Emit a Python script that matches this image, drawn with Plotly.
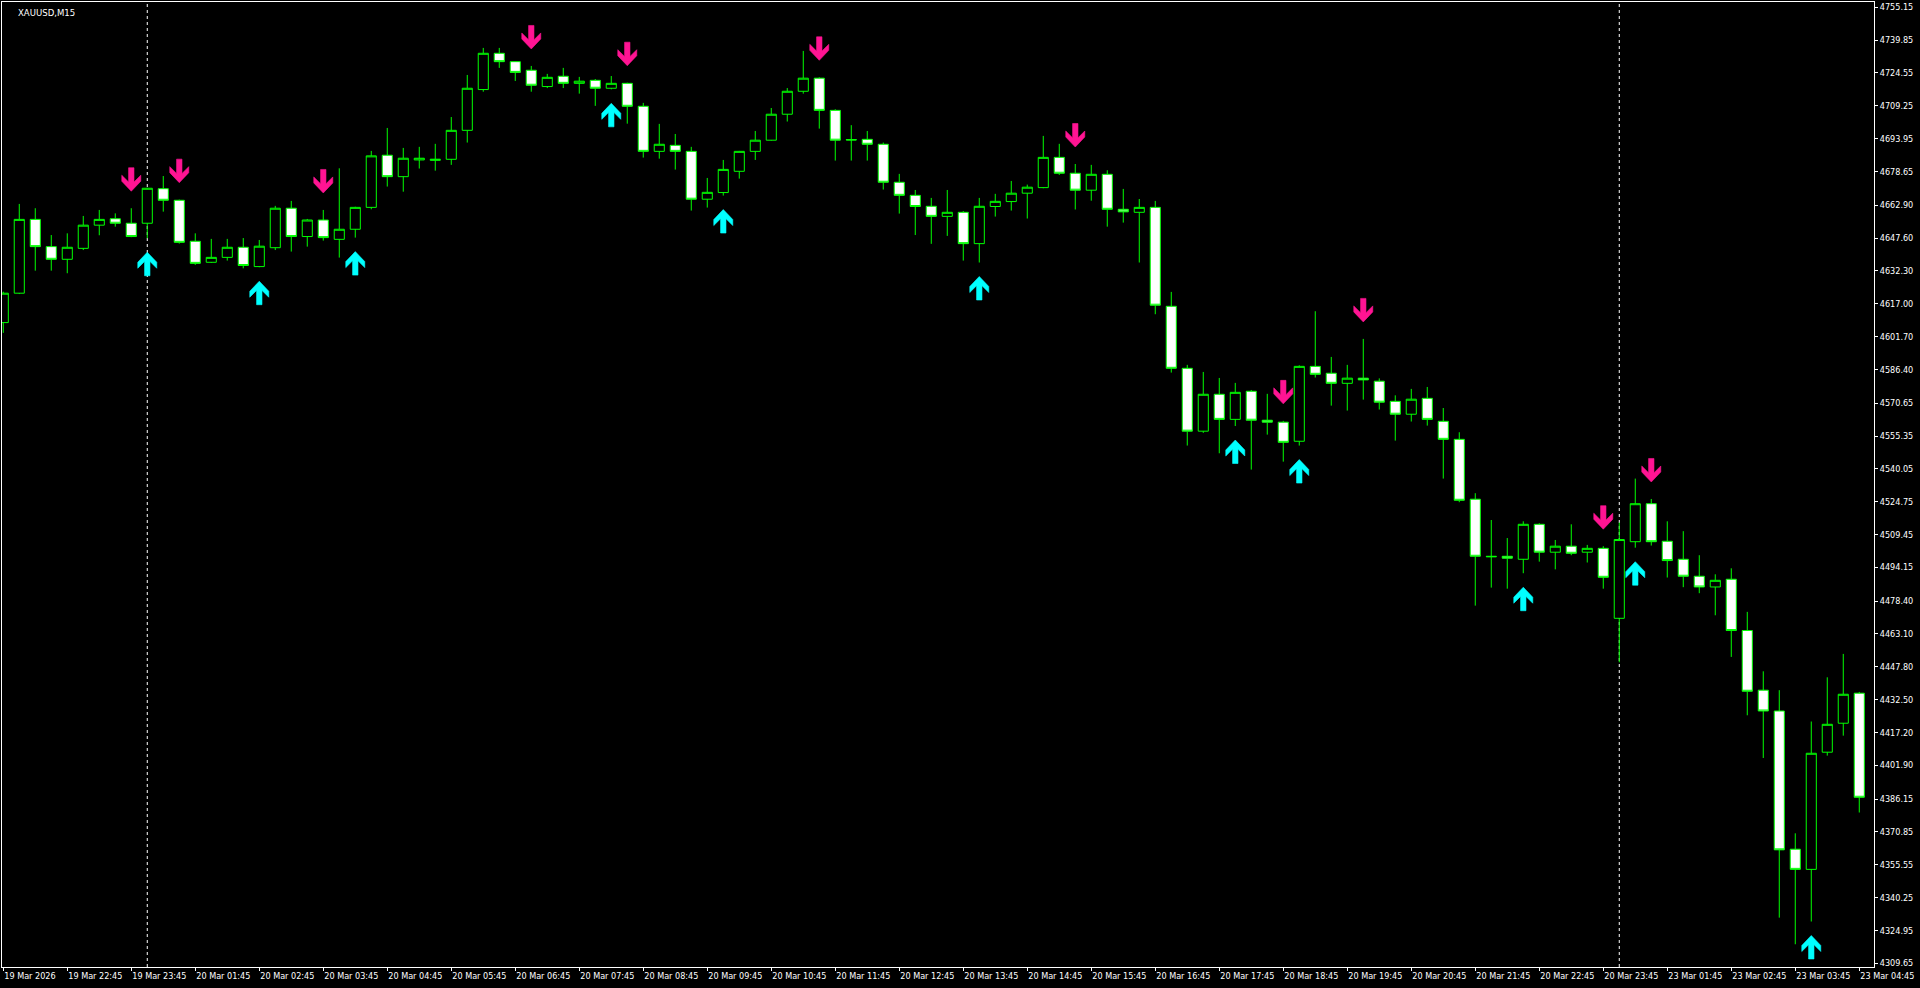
import plotly.graph_objects as go

chart_title = "XAUUSD,M15"

opens = [4608.2, 4621.9, 4656.3, 4643.6, 4637.7, 4642.8, 4653.6, 4656.6, 4654.5, 4654.5,
         4670.6, 4665.2, 4646.1, 4636.3, 4638.6, 4643.3, 4634.3, 4643.1, 4661.5, 4648.3,
         4656.0, 4647.0, 4651.7, 4661.9, 4686.2, 4676.2, 4684.0, 4683.8, 4684.3, 4697.8,
         4716.8, 4733.7, 4729.8, 4725.8, 4718.2, 4723.0, 4719.7, 4721.1, 4717.4, 4719.7,
         4709.0, 4688.0, 4690.8, 4688.0, 4665.7, 4668.8, 4678.7, 4688.0, 4693.2, 4705.3,
         4716.0, 4722.1, 4707.1, 4693.5, 4693.6, 4691.3, 4673.6, 4667.5, 4662.4, 4657.7,
         4659.6, 4645.0, 4662.3, 4664.6, 4668.5, 4671.1, 4685.2, 4677.8, 4669.9, 4677.3,
         4661.0, 4659.6, 4661.9, 4615.8, 4586.9, 4557.6, 4574.8, 4563.1, 4576.2, 4562.7,
         4561.8, 4552.9, 4587.8, 4584.6, 4579.9, 4582.3, 4580.9, 4571.5, 4565.5, 4572.9,
         4562.2, 4553.8, 4525.9, 4499.3, 4499.3, 4497.9, 4514.2, 4501.2, 4504.0, 4501.2,
         4503.0, 4470.4, 4506.1, 4523.8, 4506.3, 4497.9, 4490.0, 4485.0, 4488.6, 4464.7,
         4436.9, 4427.2, 4362.8, 4353.4, 4408.0, 4421.5, 4435.5]
highs = [4622.6, 4663.5, 4661.5, 4649.0, 4649.8, 4657.9, 4660.7, 4659.1, 4661.5, 4671.0,
         4676.5, 4665.5, 4649.8, 4647.2, 4647.2, 4647.6, 4646.7, 4662.6, 4664.9, 4656.5,
         4660.7, 4680.1, 4662.2, 4688.2, 4698.9, 4689.6, 4690.1, 4691.5, 4704.0, 4723.6,
         4736.2, 4736.2, 4730.0, 4727.8, 4724.1, 4726.9, 4722.7, 4721.7, 4723.1, 4720.0,
         4710.6, 4700.8, 4696.1, 4690.1, 4675.6, 4684.0, 4688.2, 4697.5, 4708.2, 4717.5,
         4734.8, 4722.5, 4707.6, 4700.2, 4697.5, 4692.1, 4677.5, 4670.0, 4666.3, 4670.0,
         4660.2, 4666.3, 4668.2, 4674.2, 4672.5, 4695.2, 4691.5, 4682.1, 4681.7, 4679.2,
         4670.5, 4665.8, 4664.9, 4622.5, 4588.5, 4585.2, 4582.4, 4580.1, 4576.8, 4575.0,
         4562.4, 4588.3, 4613.5, 4592.2, 4588.5, 4600.6, 4582.2, 4574.3, 4577.3, 4578.2,
         4568.4, 4557.1, 4528.7, 4516.2, 4507.8, 4515.6, 4514.7, 4506.9, 4514.2, 4504.6,
         4504.0, 4515.0, 4535.5, 4526.0, 4515.6, 4511.0, 4499.8, 4490.9, 4493.7, 4473.4,
         4445.7, 4436.9, 4370.2, 4422.3, 4442.9, 4453.8, 4436.1]
lows = [4603.4, 4621.5, 4632.4, 4632.4, 4631.2, 4642.0, 4648.9, 4652.9, 4648.0, 4647.5,
        4659.9, 4645.0, 4635.1, 4636.0, 4637.1, 4633.5, 4634.0, 4642.0, 4641.3, 4643.6,
        4646.4, 4638.5, 4647.8, 4661.0, 4671.6, 4669.2, 4680.0, 4679.0, 4681.7, 4692.1,
        4715.8, 4726.9, 4720.8, 4715.8, 4717.5, 4717.5, 4714.9, 4709.2, 4716.9, 4700.9,
        4685.1, 4684.6, 4679.5, 4660.4, 4661.8, 4667.4, 4675.3, 4684.0, 4693.0, 4701.9,
        4714.9, 4698.6, 4683.7, 4683.7, 4683.7, 4670.2, 4659.0, 4649.0, 4644.9, 4648.6,
        4637.1, 4636.2, 4657.6, 4660.4, 4656.7, 4670.8, 4677.0, 4660.9, 4665.0, 4652.9,
        4654.8, 4636.2, 4612.1, 4584.9, 4550.9, 4556.8, 4547.3, 4560.0, 4539.7, 4556.0,
        4543.4, 4550.9, 4582.6, 4569.5, 4567.2, 4572.3, 4567.7, 4553.2, 4562.1, 4560.2,
        4535.5, 4524.5, 4476.3, 4484.7, 4484.2, 4491.4, 4496.8, 4493.2, 4499.8, 4496.4,
        4484.2, 4449.9, 4503.3, 4504.3, 4489.4, 4484.9, 4482.1, 4471.8, 4452.4, 4425.2,
        4405.3, 4330.9, 4318.5, 4329.1, 4406.4, 4415.7, 4379.9]
closes = [4621.9, 4656.3, 4643.6, 4637.7, 4643.3, 4653.6, 4656.3, 4654.5, 4648.3, 4670.8,
          4665.2, 4645.6, 4635.8, 4638.6, 4643.3, 4634.8, 4643.8, 4661.5, 4648.3, 4656.0,
          4647.8, 4651.7, 4661.9, 4685.9, 4676.2, 4684.8, 4684.8, 4684.3, 4697.8, 4717.4,
          4733.7, 4729.8, 4724.8, 4718.8, 4722.5, 4719.7, 4720.7, 4717.4, 4719.7, 4709.0,
          4688.0, 4691.3, 4688.0, 4665.7, 4668.9, 4679.6, 4688.0, 4693.2, 4705.3, 4716.0,
          4722.1, 4707.1, 4693.2, 4693.3, 4691.3, 4673.6, 4667.5, 4662.3, 4657.7, 4659.6,
          4645.0, 4662.4, 4664.7, 4668.5, 4671.3, 4685.2, 4677.8, 4669.9, 4677.3, 4661.0,
          4659.8, 4661.9, 4616.3, 4586.9, 4557.6, 4574.8, 4563.1, 4575.7, 4562.7, 4561.8,
          4552.4, 4587.8, 4584.1, 4579.9, 4582.3, 4581.5, 4571.1, 4565.5, 4572.5, 4563.1,
          4553.8, 4525.4, 4499.3, 4499.1, 4498.4, 4514.2, 4501.2, 4504.0, 4500.7, 4503.0,
          4489.5, 4507.1, 4523.8, 4506.1, 4497.3, 4490.0, 4485.0, 4488.1, 4464.7, 4436.4,
          4427.2, 4362.5, 4353.4, 4407.5, 4421.0, 4435.0, 4387.0]

# bar indices carrying the indicator's signals
sell_signals = [8, 11, 20, 33, 39, 51, 67, 80, 85, 100, 103]
buy_signals = [9, 16, 22, 38, 45, 61, 77, 81, 95, 102, 113]
# first bar of a new trading day
day_breaks = [9, 101]

x_tick_labels = ["19 Mar 2026", "19 Mar 22:45", "19 Mar 23:45",
                 "20 Mar 01:45", "20 Mar 02:45", "20 Mar 03:45", "20 Mar 04:45",
                 "20 Mar 05:45", "20 Mar 06:45", "20 Mar 07:45", "20 Mar 08:45",
                 "20 Mar 09:45", "20 Mar 10:45", "20 Mar 11:45", "20 Mar 12:45",
                 "20 Mar 13:45", "20 Mar 14:45", "20 Mar 15:45", "20 Mar 16:45",
                 "20 Mar 17:45", "20 Mar 18:45", "20 Mar 19:45", "20 Mar 20:45",
                 "20 Mar 21:45", "20 Mar 22:45", "20 Mar 23:45",
                 "23 Mar 01:45", "23 Mar 02:45", "23 Mar 03:45", "23 Mar 04:45"]
x_label_every = 4

y_tick_values = [4755.15, 4739.85, 4724.55, 4709.25, 4693.95, 4678.65, 4662.90, 4647.60,
                 4632.30, 4617.00, 4601.70, 4586.40, 4570.65, 4555.35, 4540.05, 4524.75,
                 4509.45, 4494.15, 4478.40, 4463.10, 4447.80, 4432.50, 4417.20, 4401.90,
                 4386.15, 4370.85, 4355.55, 4340.25, 4324.95, 4309.65]

FONT = "DejaVu Sans Condensed, Liberation Sans, sans-serif"
FG = "#FFFFFF"
CANDLE_LINE = "#00FF00"
SELL_COLOR = "#FF1493"
BUY_COLOR = "#00FFFF"

n = len(opens)
xs = list(range(n))

fig = go.Figure()
fig.add_trace(go.Candlestick(
    x=xs, open=opens, high=highs, low=lows, close=closes,
    increasing=dict(line=dict(color=CANDLE_LINE, width=1), fillcolor="#000000"),
    decreasing=dict(line=dict(color=CANDLE_LINE, width=1), fillcolor="#FFFFFF"),
    whiskerwidth=0, hoverinfo="skip", showlegend=False,
))

# arrow glyph outline in pixels (tip at origin, pointing down)
glyph = [(0, 0), (9.5, 10), (9.5, 16), (2.7, 9.2), (2.7, 23.5), (-2.7, 23.5),
         (-2.7, 9.2), (-9.5, 16), (-9.5, 10)]


def glyph_path(sign, gap):
    pts = [(px, sign * (py + gap)) for px, py in glyph]
    return "M " + " L ".join(f"{px},{py}" for px, py in pts) + " Z"


shapes = []
for d in day_breaks:
    shapes.append(dict(type="line", xref="x", yref="paper", x0=d, x1=d, y0=0, y1=1,
                       line=dict(color=FG, width=1, dash="3px,3px"), layer="below"))
for i in sell_signals:
    shapes.append(dict(type="path", xref="x", yref="y", xsizemode="pixel", ysizemode="pixel",
                       xanchor=i, yanchor=highs[i], path=glyph_path(1, 17),
                       fillcolor=SELL_COLOR, line=dict(color=SELL_COLOR, width=0.6),
                       layer="above"))
for i in buy_signals:
    shapes.append(dict(type="path", xref="x", yref="y", xsizemode="pixel", ysizemode="pixel",
                       xanchor=i, yanchor=lows[i], path=glyph_path(-1, 14),
                       fillcolor=BUY_COLOR, line=dict(color=BUY_COLOR, width=0.6),
                       layer="above"))

fig.update_layout(
    width=1920, height=988,
    margin=dict(l=2, r=46, t=2, b=21),
    paper_bgcolor="#000000", plot_bgcolor="#000000",
    font=dict(family=FONT, size=9, color=FG),
    boxgap=0.1, boxgroupgap=0.3,
    shapes=shapes,
    showlegend=False,
    hovermode=False,
    annotations=[dict(text=chart_title, xref="paper", yref="paper", x=0, y=1,
                      xanchor="left", yanchor="top", xshift=14, yshift=-3,
                      showarrow=False, font=dict(family=FONT, size=9.5, color=FG))],
)
fig.update_xaxes(
    range=[-0.08, n - 0.08], rangeslider_visible=False,
    tickmode="array", tickvals=xs[::x_label_every], ticktext=x_tick_labels,
    ticklabelposition="outside right", tickangle=0, ticklabeloverflow="allow",
    ticks="outside", ticklen=3, tickcolor=FG, tickwidth=1,
    showgrid=False, zeroline=False,
    showline=True, linecolor=FG, linewidth=1, mirror=True,
    tickfont=dict(family=FONT, size=9, color=FG),
)
fig.update_yaxes(
    side="right", range=[4307.9, 4757.6],
    tickmode="array", tickvals=y_tick_values, ticktext=[f"{v:.2f}" for v in y_tick_values],
    ticks="outside", ticklen=3, tickcolor=FG, tickwidth=1,
    showgrid=False, zeroline=False,
    showline=True, linecolor=FG, linewidth=1, mirror=True,
    tickfont=dict(family=FONT, size=9, color=FG),
)

fig.write_html("out.html", config={"displayModeBar": False},
               post_script="document.body.style.margin='0';document.body.style.overflow='hidden';")
